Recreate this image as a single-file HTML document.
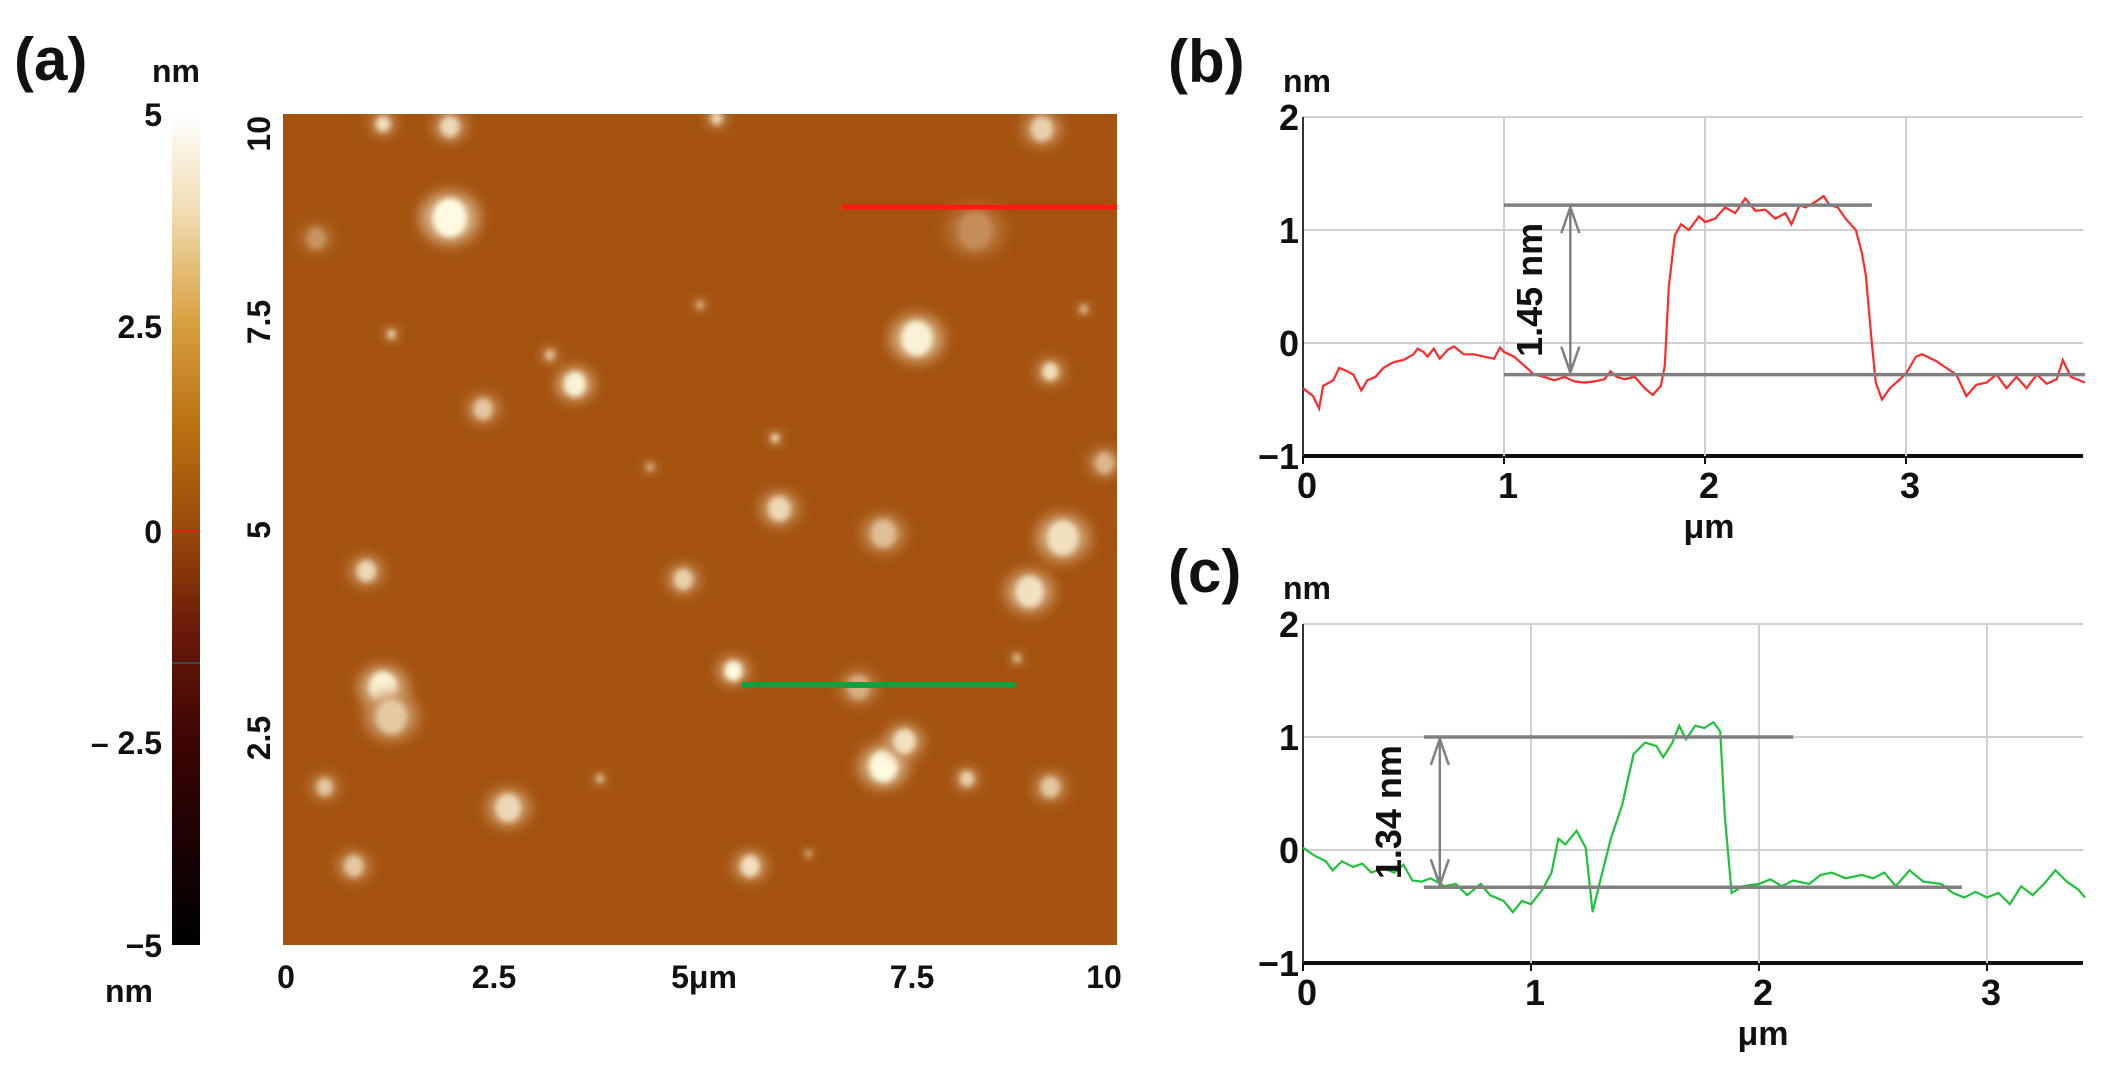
<!DOCTYPE html>
<html><head><meta charset="utf-8">
<style>
body{margin:0;background:#fff;}
svg{display:block;font-family:"Liberation Sans",sans-serif;}
.b{font-weight:bold;fill:#111;}
</style></head>
<body>
<svg width="2103" height="1071" viewBox="0 0 2103 1071">
<defs>
<linearGradient id="cb" x1="0" y1="0" x2="0" y2="1">
<stop offset="0" stop-color="#ffffff"/>
<stop offset="0.12" stop-color="#f0dcb0"/>
<stop offset="0.25" stop-color="#d8a040"/>
<stop offset="0.38" stop-color="#b87010"/>
<stop offset="0.5" stop-color="#9a4a0a"/>
<stop offset="0.62" stop-color="#6a1a08"/>
<stop offset="0.75" stop-color="#3e0604"/>
<stop offset="0.9" stop-color="#150202"/>
<stop offset="1" stop-color="#000"/>
</linearGradient>
<filter id="blur" x="-50%" y="-50%" width="200%" height="200%"><feGaussianBlur stdDeviation="3"/></filter>
<filter id="blur2" x="-50%" y="-50%" width="200%" height="200%"><feGaussianBlur stdDeviation="7"/></filter>
<clipPath id="imgclip"><rect x="283" y="114" width="834" height="831"/></clipPath>
</defs>

<text class="b" x="14" y="80" font-size="60">(a)</text>
<text class="b" x="1168" y="82" font-size="60">(b)</text>
<text class="b" x="1168" y="592" font-size="60">(c)</text>

<!-- colorbar -->
<g>
<rect x="172" y="114" width="28" height="831" fill="url(#cb)"/>
<line x1="172" y1="531" x2="200" y2="531" stroke="#e02010" stroke-width="2"/>
<line x1="172" y1="663" x2="200" y2="663" stroke="#444" stroke-width="2"/>
<text class="b" x="152" y="82" font-size="32">nm</text>
<text class="b" x="105" y="1002" font-size="32">nm</text>
<g font-size="32" class="b" text-anchor="end">
<text x="162" y="126">5</text>
<text x="162" y="338">2.5</text>
<text x="162" y="543">0</text>
<text x="162" y="754">– 2.5</text>
<text x="162" y="957">−5</text>
</g>
</g>

<!-- AFM image -->
<g>
<rect x="283" y="114" width="834" height="831" fill="#a4520e"/>
<g clip-path="url(#imgclip)" id="flakes"></g>
<line x1="842" y1="207" x2="1117" y2="207" stroke="#ff1a10" stroke-width="5"/>
<line x1="742" y1="685" x2="1015" y2="685" stroke="#10a040" stroke-width="6"/>
<g class="b" font-size="32">
<text transform="translate(270,116) rotate(-90)" text-anchor="end">10</text>
<text transform="translate(270,322) rotate(-90)" text-anchor="middle">7.5</text>
<text transform="translate(270,530) rotate(-90)" text-anchor="middle">5</text>
<text transform="translate(270,738) rotate(-90)" text-anchor="middle">2.5</text>
<text x="286" y="988" text-anchor="middle">0</text>
<text x="494" y="988" text-anchor="middle">2.5</text>
<text x="704" y="988" text-anchor="middle">5μm</text>
<text x="912" y="988" text-anchor="middle">7.5</text>
<text x="1104" y="988" text-anchor="middle">10</text>
</g>
</g>

<g id="chartB"></g>
<g id="chartC"></g>
</svg>
<script>
// ---- Profile b data ----
const bX = [0,0.05,0.08,0.1,0.15,0.18,0.22,0.25,0.29,0.32,0.36,0.4,0.45,0.5,0.55,0.57,0.6,0.62,0.65,0.68,0.72,0.75,0.8,0.85,0.9,0.95,0.98,1.0,1.05,1.1,1.15,1.2,1.25,1.3,1.35,1.4,1.45,1.5,1.53,1.56,1.6,1.65,1.7,1.74,1.78,1.8,1.82,1.85,1.88,1.92,1.97,2.0,2.05,2.1,2.15,2.2,2.25,2.3,2.35,2.4,2.43,2.47,2.5,2.55,2.59,2.62,2.66,2.7,2.75,2.78,2.8,2.83,2.85,2.88,2.92,2.97,3.0,3.05,3.08,3.15,3.2,3.25,3.3,3.35,3.4,3.45,3.5,3.55,3.6,3.65,3.7,3.75,3.78,3.82,3.89];
const bY = [-0.4,-0.47,-0.58,-0.38,-0.33,-0.22,-0.25,-0.28,-0.42,-0.33,-0.3,-0.22,-0.17,-0.15,-0.1,-0.05,-0.08,-0.12,-0.05,-0.14,-0.06,-0.03,-0.1,-0.1,-0.12,-0.14,-0.04,-0.08,-0.12,-0.2,-0.28,-0.3,-0.33,-0.3,-0.34,-0.35,-0.34,-0.32,-0.25,-0.3,-0.32,-0.3,-0.4,-0.46,-0.38,-0.2,0.5,0.95,1.05,1.0,1.12,1.07,1.1,1.2,1.15,1.28,1.17,1.18,1.1,1.15,1.05,1.22,1.2,1.25,1.3,1.22,1.2,1.1,1.0,0.8,0.6,0.0,-0.35,-0.5,-0.4,-0.32,-0.27,-0.12,-0.1,-0.16,-0.22,-0.28,-0.47,-0.37,-0.35,-0.28,-0.4,-0.3,-0.4,-0.28,-0.36,-0.32,-0.15,-0.3,-0.35];
const bXTicks = [0,1,2,3];
const bYTicks = [2,1,0,-1];
const bMeasure = [1.22,-0.28];
const bLabel = "1.45 nm";
// ---- Profile c data ----
const cX = [0,0.05,0.1,0.13,0.17,0.22,0.26,0.3,0.35,0.4,0.44,0.48,0.52,0.56,0.62,0.67,0.72,0.78,0.82,0.88,0.92,0.96,1.0,1.05,1.09,1.12,1.15,1.2,1.24,1.27,1.3,1.35,1.4,1.45,1.5,1.55,1.58,1.62,1.65,1.68,1.72,1.76,1.8,1.83,1.85,1.88,1.93,2.0,2.05,2.1,2.15,2.22,2.27,2.32,2.38,2.45,2.5,2.55,2.6,2.66,2.72,2.8,2.85,2.9,2.95,3.0,3.05,3.1,3.15,3.2,3.25,3.3,3.35,3.4,3.43];
const cY = [0.02,-0.05,-0.1,-0.18,-0.1,-0.15,-0.12,-0.2,-0.16,-0.2,-0.13,-0.27,-0.28,-0.25,-0.32,-0.3,-0.4,-0.3,-0.4,-0.45,-0.55,-0.45,-0.48,-0.35,-0.2,0.1,0.05,0.17,0.02,-0.55,-0.3,0.1,0.4,0.85,0.95,0.92,0.82,0.95,1.1,0.98,1.1,1.08,1.13,1.05,0.3,-0.38,-0.32,-0.3,-0.26,-0.32,-0.27,-0.3,-0.22,-0.2,-0.25,-0.22,-0.25,-0.2,-0.32,-0.18,-0.28,-0.3,-0.38,-0.42,-0.37,-0.42,-0.38,-0.48,-0.32,-0.4,-0.3,-0.18,-0.28,-0.35,-0.42];
const cXTicks = [0,1,2,3];
const cYTicks = [2,1,0,-1];
const cMeasure = [1.0,-0.33];
const cLabel = "1.34 nm";
// ---- AFM flakes: [x um, y um, size um, brightness 0..1] ----
const flakeX = [2.0,7.6,3.5,7.2,7.45,1.2,1.3,5.4,8.95,9.35,5.95,7.2,9.85,1.0,4.8,2.4,2.7,0.85,5.6,9.2,8.2,0.5,9.2,2.0,1.2,9.1,5.2,0.4,8.3,6.9,1.3,3.2,5.9,8.8,4.4,9.6,5.0,3.8,6.3];
const flakeY = [8.75,7.3,6.75,2.15,2.45,3.1,2.75,3.3,4.25,4.9,5.25,4.95,5.8,4.5,4.4,6.45,1.65,0.95,0.95,1.9,2.0,1.9,6.9,9.85,9.88,9.82,9.95,8.5,8.6,3.1,7.35,7.1,6.1,3.45,5.75,7.65,7.7,2.0,1.1];
const flakeS = [0.55,0.5,0.35,0.45,0.35,0.45,0.5,0.28,0.45,0.5,0.35,0.4,0.3,0.3,0.3,0.3,0.4,0.3,0.3,0.3,0.22,0.25,0.25,0.3,0.22,0.35,0.18,0.3,0.55,0.35,0.12,0.15,0.12,0.12,0.12,0.12,0.12,0.12,0.1];
const flakeB = [1,0.95,0.95,1,0.85,0.95,0.7,1,0.85,0.85,0.8,0.65,0.6,0.8,0.75,0.7,0.8,0.7,0.85,0.7,0.75,0.7,0.85,0.8,0.85,0.75,0.8,0.4,0.35,0.55,0.9,0.7,0.9,0.7,0.6,0.7,0.6,0.7,0.6];

const NS='http://www.w3.org/2000/svg';
function mk(parent, tag, attrs){const e=document.createElementNS(NS,tag);for(const k in attrs)e.setAttribute(k,attrs[k]);parent.appendChild(e);return e;}

// flakes
const fg=document.getElementById('flakes');
const imgX=u=>283+u/10*834, imgY=u=>945-u/10*831;
function mixCol(b){const lo=[164,82,14],hi=[255,250,225];return 'rgb('+lo.map((v,i)=>Math.round(v+(hi[i]-v)*b)).join(',')+')';}
for(let i=0;i<flakeX.length;i++){
  const r=flakeS[i]/10*834/2;
  const halo=mk(fg,'ellipse',{cx:imgX(flakeX[i]),cy:imgY(flakeY[i]),rx:r*1.3,ry:r*1.15,fill:mixCol(flakeB[i]*0.55),filter:'url(#blur2)'});
  
  
  const e=mk(fg,'ellipse',{cx:imgX(flakeX[i]),cy:imgY(flakeY[i]),rx:r*0.75,ry:r*0.85,fill:mixCol(flakeB[i]),filter:'url(#blur)'});
  
  
}

function chart(g, X, Y, xT, yT, meas, lbl, o){
  const sx=v=>o.x0+v*o.pxu, sy=v=>o.yTop+(2-v)*(o.yBot-o.yTop)/3;
  yT.forEach(t=>{
    const l=mk(g,'line',{x1:o.x0,x2:o.xR,y1:sy(t),y2:sy(t),stroke:t===-1?'#111':'#d0d0d0','stroke-width':t===-1?4:2});
    
    
    const tx=mk(g,'text',{x:o.x0-4,y:sy(t)+13,'text-anchor':'end','font-size':36,class:'b'});
    tx.textContent=t<0?'−'+(-t):String(t);
    
    
  });
  xT.forEach(t=>{
    if(t>0){const l=mk(g,'line',{x1:sx(t),x2:sx(t),y1:sy(2),y2:sy(-1),stroke:'#d0d0d0','stroke-width':2});
    
    }
    const tk=mk(g,'line',{x1:sx(t),x2:sx(t),y1:sy(-1),y2:sy(-1)+8,stroke:'#111','stroke-width':2});
    
    
    const tx=mk(g,'text',{x:sx(t)+4,y:sy(-1)+42,'text-anchor':'middle','font-size':36,class:'b'});
    tx.textContent=String(t);
    
    
  });
  const ya=mk(g,'line',{x1:o.x0,x2:o.x0,y1:sy(2),y2:sy(-1),stroke:'#333','stroke-width':2});
  
  
  const un=mk(g,'text',{x:o.x0-20,y:sy(2)-25,'font-size':32,class:'b'});un.textContent='nm';
  
  
  const xu=mk(g,'text',{x:sx(2)+4,y:sy(-1)+82,'text-anchor':'middle','font-size':34,class:'b'});xu.textContent='μm';
  
  
  const d=X.map((x,i)=>(i?'L':'M')+sx(x).toFixed(1)+','+sy(Y[i]).toFixed(1)).join('');
  const p=mk(g,'path',{d:d,fill:'none',stroke:o.col,'stroke-width':2.2});
  
  
  const m1=mk(g,'line',{x1:sx(o.mx[0]),x2:sx(o.mx[1]),y1:sy(meas[0]),y2:sy(meas[0]),stroke:'#808080','stroke-width':3.5});
  
  
  const m2=mk(g,'line',{x1:sx(o.mx[0]),x2:sx(o.mx[2]),y1:sy(meas[1]),y2:sy(meas[1]),stroke:'#808080','stroke-width':3.5});
  
  
  const ax=sx(o.ax), t1=sy(meas[0]), t2=sy(meas[1]);
  const ar=mk(g,'path',{d:`M${ax},${t1+2}L${ax},${t2-2}M${ax-9},${t1+28}L${ax},${t1+2}L${ax+9},${t1+28}M${ax-9},${t2-28}L${ax},${t2-2}L${ax+9},${t2-28}`,fill:'none',stroke:'#808080','stroke-width':2.5});
  
  
  const lt=mk(g,'text',{transform:`translate(${sx(o.lx)},${(t1+t2)/2}) rotate(-90)`,'text-anchor':'middle','font-size':36,class:'b'});
  lt.textContent=lbl;
  
  
}
chart(document.getElementById('chartB'),bX,bY,bXTicks,bYTicks,bMeasure,bLabel,
  {x0:1303,xR:2083,pxu:201,yTop:117,yBot:456,col:'#ff2a2a',mx:[1.0,2.83,3.89],ax:1.33,lx:1.19});
chart(document.getElementById('chartC'),cX,cY,cXTicks,cYTicks,cMeasure,cLabel,
  {x0:1303,xR:2083,pxu:228,yTop:624,yBot:963,col:'#1fc23a',mx:[0.53,2.15,2.89],ax:0.6,lx:0.43});
</script>
</body></html>
